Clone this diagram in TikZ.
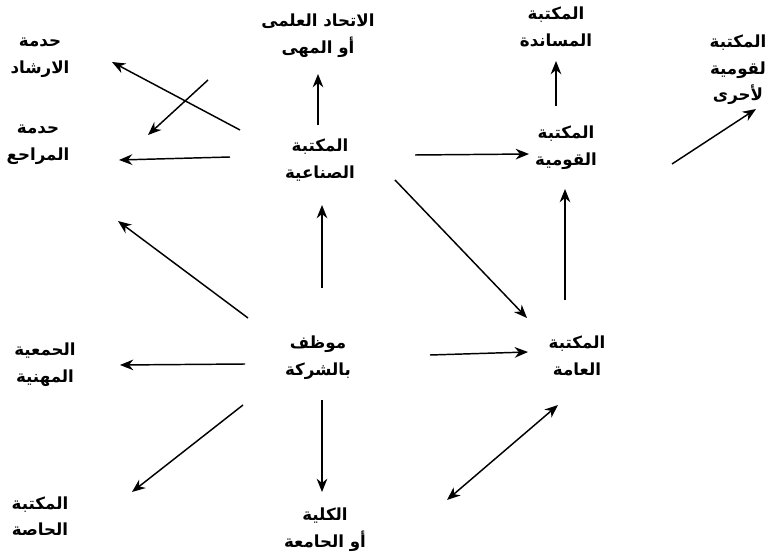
\documentclass[tikz,border=0pt]{standalone}
\usepackage{fontspec}
\usetikzlibrary{arrows.meta}
\TeXXeTstate=1
\newfontfamily\arabicfont[Script=Arabic]{DejaVu Sans}
\tikzset{
  lbl/.style={font=\arabicfont\bfseries\fontsize{12.5}{20}\selectfont, align=center, inner sep=0pt},
  arr/.style={-{Stealth[length=10pt,width=8pt]}, line width=1.1pt, black},
  darr/.style={{Stealth[length=10pt,width=8pt]}-{Stealth[length=10pt,width=8pt]}, line width=1.1pt, black}
}
\newcommand{\ar}[1]{\beginR #1\endR}
\begin{document}
\begin{tikzpicture}[x=0.75pt,y=-0.75pt]
\useasboundingbox (0,0) rectangle (766,559);
% nodes
\node[lbl] (irshad)  at (40,58)   {\ar{حدمة}\\\ar{الارشاد}};
\node[lbl] (ittihad) at (318,36)  {\ar{الاتحاد العلمى}\\\ar{أو المهى}};
\node[lbl] (musanid) at (556,27)  {\ar{المكتبة}\\\ar{المساندة}};
\node[lbl] (ukhra)   at (738,70)  {\ar{المكتبة}\\\ar{لقومية}\\\ar{لأحرى}};
\node[lbl] (marajia) at (38,145)  {\ar{حدمة}\\\ar{المراحع}};
\node[lbl] (sinaia)  at (320,160) {\ar{المكتبة}\\\ar{الصناعية}};
\node[lbl] (qawmia)  at (566,148) {\ar{المكتبة}\\\ar{القومية}};
\node[lbl] (jamiya)  at (45,365)  {\ar{الحمعية}\\\ar{المهنية}};
\node[lbl] (muwazzaf) at (318,358) {\ar{موظف}\\\ar{بالشركة}};
\node[lbl] (amma)    at (577,356) {\ar{المكتبة}\\\ar{العامة}};
\node[lbl] (khassa)  at (40,516)  {\ar{المكتبة}\\\ar{الحاصة}};
\node[lbl] (kulliya) at (325,530) {\ar{الكلية}\\\ar{أو الحامعة}};
% connector end points
\coordinate (a1s) at (240,130); \coordinate (a1e) at (112,62);
\coordinate (a2s) at (208,80);  \coordinate (a2e) at (148,135);
\coordinate (a3s) at (230,157); \coordinate (a3e) at (119,160);
\coordinate (a4s) at (318,125); \coordinate (a4e) at (318,74);
\coordinate (a5s) at (415,155); \coordinate (a5e) at (529,154);
\coordinate (a6s) at (556,106); \coordinate (a6e) at (556,61);
\coordinate (a7s) at (672,164); \coordinate (a7e) at (756,109);
\coordinate (a8s) at (565,300); \coordinate (a8e) at (565,189);
\coordinate (a9s) at (395,180); \coordinate (a9e) at (527,318);
\coordinate (a10s) at (248,318); \coordinate (a10e) at (118,221);
\coordinate (a11s) at (322,288); \coordinate (a11e) at (322,205);
\coordinate (a12s) at (245,364); \coordinate (a12e) at (120,365);
\coordinate (a13s) at (430,355); \coordinate (a13e) at (528,352);
\coordinate (a14s) at (243,405); \coordinate (a14e) at (132,492);
\coordinate (a15s) at (322,400); \coordinate (a15e) at (322,492);
\coordinate (a16s) at (447,500); \coordinate (a16e) at (558,405);
% connectors
\draw[arr] (a1s) -- (a1e);
\draw[arr] (a2s) -- (a2e);
\draw[arr] (a3s) -- (a3e);
\draw[arr] (a4s) -- (a4e);
\draw[arr] (a5s) -- (a5e);
\draw[arr] (a6s) -- (a6e);
\draw[arr] (a7s) -- (a7e);
\draw[arr] (a8s) -- (a8e);
\draw[arr] (a9s) -- (a9e);
\draw[arr] (a10s) -- (a10e);
\draw[arr] (a11s) -- (a11e);
\draw[arr] (a12s) -- (a12e);
\draw[arr] (a13s) -- (a13e);
\draw[arr] (a14s) -- (a14e);
\draw[arr] (a15s) -- (a15e);
\draw[darr] (a16s) -- (a16e);
\end{tikzpicture}
\end{document}
